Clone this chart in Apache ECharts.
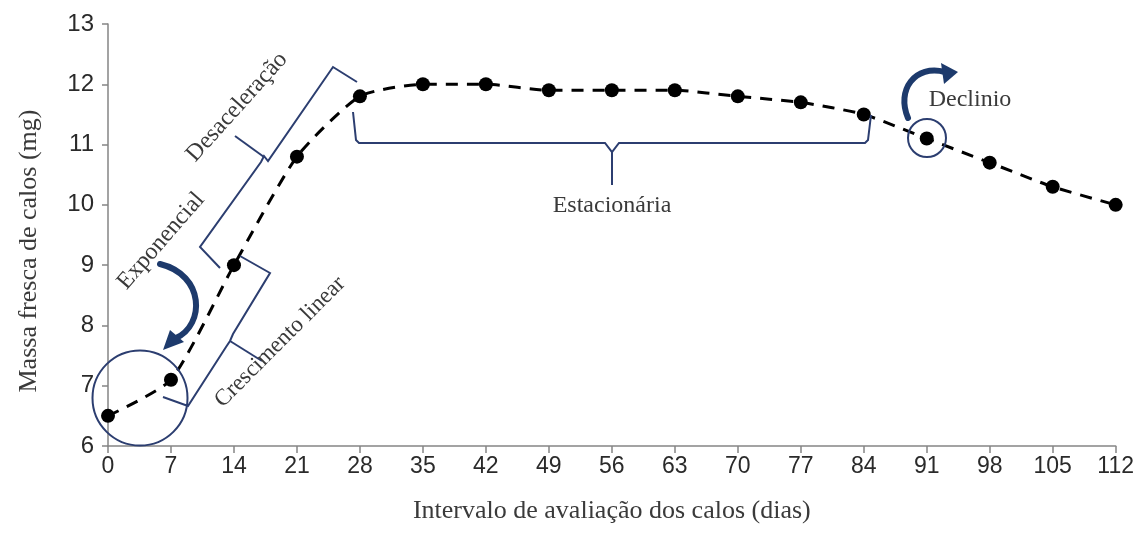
<!DOCTYPE html>
<html>
<head>
<meta charset="utf-8">
<script src="https://cdn.jsdelivr.net/npm/echarts@6/dist/echarts.min.js"></script>
<style>
html,body{margin:0;padding:0;background:#fff;}
#chart{width:1137px;height:551px;}
</style>
</head>
<body>
<div id="chart"></div>
<script>
// Data
var days = [0, 7, 14, 21, 28, 35, 42, 49, 56, 63, 70, 77, 84, 91, 98, 105, 112];
var mass = [6.5, 7.1, 9.0, 10.8, 11.8, 12.0, 12.0, 11.9, 11.9, 11.9, 11.8, 11.7, 11.5, 11.1, 10.7, 10.3, 10.0];
var xTitle = 'Intervalo de avaliação dos calos (dias)';
var yTitle = 'Massa fresca de calos (mg)';
var phaseLabels = ['Exponencial', 'Desaceleração', 'Crescimento linear', 'Estacionária', 'Declinio'];

var chart = echarts.init(document.getElementById('chart'), null, {renderer: 'canvas'});

var navy = '#2c3e70';
var arrowNavy = '#1d3a6c';
var txtCol = '#3a3a3a';
var serif = '"Liberation Serif","Times New Roman",serif';
var sans = '"Liberation Sans",Arial,sans-serif';

function line(points, w) {
  return {type: 'polyline', shape: {points: points}, style: {stroke: navy, lineWidth: w || 2, fill: null, lineJoin: 'miter'}, z: 5};
}
function rtext(str, x, y, deg, size) {
  return {type: 'text', x: x, y: y, rotation: deg * Math.PI / 180,
    style: {text: str, x: 0, y: 0, align: 'center', verticalAlign: 'middle',
      font: (size || 24) + 'px ' + serif, fill: txtCol}, z: 6};
}

var graphics = [
  {type: 'circle', shape: {cx: 140, cy: 398, r: 47.5}, style: {stroke: navy, lineWidth: 2, fill: null}, z: 5},
  {type: 'circle', shape: {cx: 927, cy: 138, r: 19}, style: {stroke: navy, lineWidth: 2, fill: null}, z: 5},
  line([[220, 268], [200, 247], [261, 162], [264, 156], [268, 161], [333, 67], [357, 82]]),
  line([[264, 157], [235, 136]]),
  line([[240, 256], [270, 273], [233, 334], [230, 341], [226, 347], [188, 406], [163, 397]]),
  line([[230, 341], [262, 361]]),
  line([[353, 112], [356, 140], [359, 143], [605, 143], [612, 152], [619, 143], [865, 143], [868, 140], [871, 115]]),
  line([[612, 151], [612, 185]]),
  {type: 'bezierCurve', shape: {x1: 160, y1: 264, cpx1: 205, cpy1: 275, cpx2: 205, cpy2: 325, x2: 176, y2: 338},
    style: {stroke: arrowNavy, lineWidth: 6, fill: null, lineCap: 'round'}, z: 5},
  {type: 'polygon', shape: {points: [[163, 350], [170, 330], [184, 342]]}, style: {fill: arrowNavy}, z: 5},
  {type: 'bezierCurve', shape: {x1: 908, y1: 118, cpx1: 896, cpy1: 90, cpx2: 915, cpy2: 64, x2: 945, y2: 72},
    style: {stroke: arrowNavy, lineWidth: 6, fill: null, lineCap: 'round'}, z: 5},
  {type: 'polygon', shape: {points: [[941, 63], [958, 72], [944, 84]]}, style: {fill: arrowNavy}, z: 5},
  rtext(phaseLabels[0], 161, 241, 49, 24),
  rtext(phaseLabels[1], 237, 107, 48, 24),
  rtext(phaseLabels[2], 280, 342, 45, 23),
  {type: 'text', x: 612, y: 206, style: {text: phaseLabels[3], align: 'center', verticalAlign: 'middle', font: '24px ' + serif, fill: txtCol}, z: 6},
  {type: 'text', x: 970, y: 100, style: {text: phaseLabels[4], align: 'center', verticalAlign: 'middle', font: '24px ' + serif, fill: txtCol}, z: 6}
];

var option = {
  animation: false,
  backgroundColor: '#ffffff',
  grid: {left: 108, right: 21, top: 24, bottom: 105, containLabel: false},
  xAxis: {
    type: 'value', min: 0, max: 112, interval: 7,
    name: xTitle, nameLocation: 'middle', nameGap: 52,
    nameTextStyle: {fontFamily: serif, fontSize: 26, color: txtCol},
    axisLine: {show: true, lineStyle: {color: '#858585', width: 1.5}},
    axisTick: {show: true, length: 7, lineStyle: {color: '#858585', width: 1.5}},
    axisLabel: {fontFamily: sans, fontSize: 23, color: '#2a2a2a', margin: 9},
    splitLine: {show: false}
  },
  yAxis: {
    type: 'value', min: 6, max: 13, interval: 1,
    name: yTitle, nameLocation: 'middle', nameGap: 66, nameRotate: 90,
    nameTextStyle: {fontFamily: serif, fontSize: 26, color: txtCol, padding: [0, 32, 0, 0]},
    axisLine: {show: true, lineStyle: {color: '#858585', width: 1.5}},
    axisTick: {show: true, length: 6, lineStyle: {color: '#858585', width: 1.5}},
    axisLabel: {fontFamily: sans, fontSize: 24, color: '#2a2a2a', margin: 14},
    splitLine: {show: false}
  },
  series: [{
    type: 'line',
    data: days.map(function (d, i) { return [d, mass[i]]; }),
    smooth: 0.2,
    symbol: 'circle', symbolSize: 14,
    itemStyle: {color: '#000'},
    lineStyle: {color: '#000', width: 3, type: [12, 9]},
    z: 3
  }],
  graphic: graphics
};
chart.setOption(option);
</script>
</body>
</html>
